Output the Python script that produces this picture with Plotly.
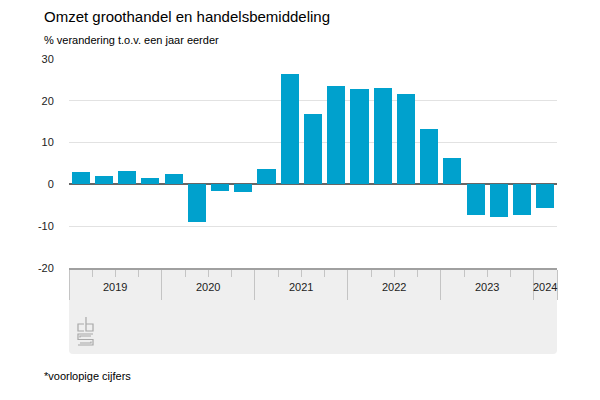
import plotly.graph_objects as go

years = ["2019", "2020", "2021", "2022", "2023", "2024"]
quarters_per_year = [4, 4, 4, 4, 4, 1]
values = [3.0, 2.1, 3.2, 1.5, 2.6, -9.0, -1.5, -1.8,
          3.7, 26.3, 16.8, 23.6, 22.9, 23.1, 21.6, 13.2,
          6.3, -7.3, -7.7, -7.3, -5.7]
y_ticks = [-20, -10, 0, 10, 20, 30]
y_tick_labels = ["-20", "-10", "0", "10", "20", "30"]

BLUE = "#00a1cd"
FONT = "Liberation Sans, Arial, sans-serif"

# layout geometry (page is offset by the 8px body margin)
L, T, R, B = 61, 51, 43, 132
W, H = 592, 392
PW, PH = W - L - R, H - T - B


def px(x, y):
    """page pixel -> paper coords"""
    return ((x - 8 - L) / PW, (H - B + 8 - y) / PH)


n = len(values)
xs = list(range(n))

year_bounds = []
year_centers = []
start = 0
for q in quarters_per_year:
    year_centers.append(start + (q - 1) / 2)
    year_bounds.append(start - 0.5)
    start += q
year_bounds.append(start - 0.5)
quarter_bounds = [i + 0.5 for i in range(n - 1) if (i + 0.5) not in year_bounds]

fig = go.Figure()
fig.add_trace(go.Bar(x=xs, y=values, marker=dict(color=BLUE, line=dict(width=0)),
                     width=0.78, hoverinfo="skip"))

# grey band below plot with rounded bottom corners
yb = px(0, 354)[1]
rx, ry = 4 / PW, 4 / PH
fig.add_shape(type="path", xref="paper", yref="paper",
              path=(f"M 0 0 L 1 0 L 1 {yb+ry} Q 1 {yb} {1-rx} {yb} L {rx} {yb} "
                    f"Q 0 {yb} 0 {yb+ry} Z"),
              fillcolor="#efefef", line=dict(width=0), layer="below")

for yr, c in zip(years, year_centers):
    fig.add_annotation(x=c, y=0, xref="x", yref="paper", text=yr, showarrow=False,
                       yanchor="top", yshift=-11, font=dict(family=FONT, size=11, color="#222"))

# CBS logo (simple outline)
def pth(points):
    s = ""
    for i, (x, y) in enumerate(points):
        X, Y = px(x, y)
        s += ("M " if i == 0 else " L ") + f"{X:.4f} {Y:.4f}"
    return s + " "

logo = (pth([(84, 324), (78, 324), (78, 331), (84, 331)]) +
        pth([(86, 317), (86, 331), (93, 331), (93, 324), (86, 324)]) +
        pth([(93, 334), (78, 334), (78, 339.5), (93, 339.5), (93, 345), (78, 345)]) +
        pth([(91, 336), (80, 336), (80, 337.5)]) +
        pth([(80, 343), (91, 343), (91, 341.5)]))
fig.add_shape(type="path", xref="paper", yref="paper", path=logo,
              line=dict(color="#a8a8a8", width=1.2))

fig.add_annotation(x=0, y=1, xref="paper", yref="paper", text="Omzet groothandel en handelsbemiddeling",
                   showarrow=False, xanchor="left", yanchor="bottom", xshift=-27, yshift=32,
                   font=dict(family=FONT, size=15, color="#000"))
fig.add_annotation(x=0, y=1, xref="paper", yref="paper", text="% verandering t.o.v. een jaar eerder",
                   showarrow=False, xanchor="left", yanchor="bottom", xshift=-27, yshift=11,
                   font=dict(family=FONT, size=11, color="#000"))
fig.add_annotation(x=0, y=0, xref="paper", yref="paper", text="*voorlopige cijfers",
                   showarrow=False, xanchor="left", yanchor="top", xshift=-27, yshift=-100,
                   font=dict(family=FONT, size=11, color="#000"))

fig.update_layout(
    width=W, height=H,
    margin=dict(l=L, r=R, t=T, b=B),
    paper_bgcolor="white", plot_bgcolor="white",
    showlegend=False, bargap=0,
    font=dict(family=FONT, size=11, color="#222"),
    xaxis=dict(range=[-0.5, n - 0.5], showgrid=False, zeroline=False,
               tickmode="array", tickvals=year_bounds, ticktext=["" for _ in year_bounds],
               ticks="outside", ticklen=30, tickcolor="#c4c4c4", tickwidth=1,
               showline=True, linecolor="#a0a0a0", linewidth=1.5,
               minor=dict(tickmode="array", tickvals=quarter_bounds, ticks="outside",
                          ticklen=7, tickcolor="#c4c4c4", tickwidth=1),
               fixedrange=True),
    yaxis=dict(range=[-20, 30], tickmode="array", tickvals=y_ticks, ticktext=y_tick_labels,
               showgrid=True, gridcolor="#e2e2e2", gridwidth=1,
               zeroline=True, zerolinecolor="#666", zerolinewidth=2,
               ticks="outside", ticklen=12, tickcolor="rgba(0,0,0,0)",
               tickfont=dict(family=FONT, size=11, color="#222"), fixedrange=True),
)

fig.write_html("out.html")
